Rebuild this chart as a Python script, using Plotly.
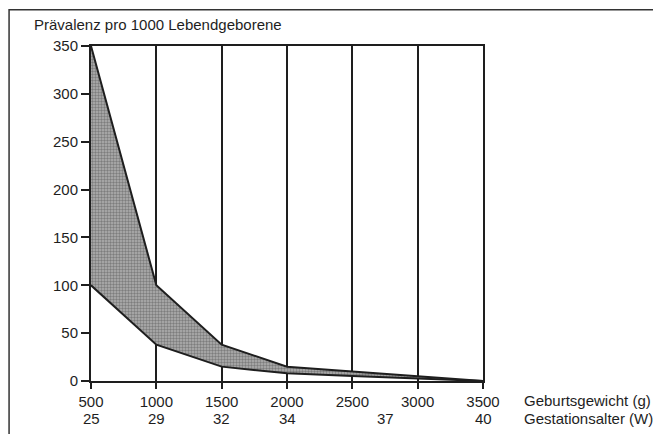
import plotly.graph_objects as go

# Data
weights = [500, 1000, 1500, 2000, 2500, 3000, 3500]          # Geburtsgewicht (g)
upper = [350, 100, 38, 15, 10, 5, 0]                          # obere Grenze
lower = [100, 38, 15, 8, 5.3, 2.7, 0]                         # untere Grenze
y_ticks = [0, 50, 100, 150, 200, 250, 300, 350]
gest_pos = [500, 1000, 1500, 2000, 2750, 3500]                # position on weight axis
gest_labels = ["25", "29", "32", "34", "37", "40"]            # Gestationsalter (W)

FONT = "Liberation Sans, Arial, Helvetica, sans-serif"
INK = "#1e1e1e"

fig = go.Figure()
fig.add_trace(go.Scatter(x=weights, y=lower, mode="lines",
                         line=dict(color=INK, width=2), showlegend=False,
                         hoverinfo="skip"))
fig.add_trace(go.Scatter(x=weights, y=upper, mode="lines",
                         line=dict(color=INK, width=2), showlegend=False,
                         fill="tonexty", fillcolor="#a0a0a0",
                         fillpattern=dict(shape=".", fgcolor="#4a4a4a",
                                          bgcolor="#b0b0b0", size=3, solidity=0.5),
                         hoverinfo="skip"))

# page body has an 8px margin, so the figure is 8px smaller on each side
fig.update_layout(
    width=653, height=426,
    margin=dict(l=83, r=178, t=38, b=53),
    paper_bgcolor="white", plot_bgcolor="white",
    font=dict(family=FONT, size=15, color=INK),
    showlegend=False,
)
fig.update_xaxes(
    range=[500, 3500], tickvals=weights, ticktext=[str(w) for w in weights],
    showgrid=True, gridcolor=INK, gridwidth=1.5,
    showline=True, linecolor=INK, linewidth=2, mirror=True,
    ticks="outside", ticklen=6, tickwidth=1.5, tickcolor=INK,
    zeroline=False, tickfont=dict(size=15, family=FONT, color=INK),
)
fig.update_yaxes(
    range=[0, 350], tickvals=y_ticks,
    showgrid=False,
    showline=True, linecolor=INK, linewidth=2, mirror=True,
    ticks="outside", ticklen=8, tickwidth=1.5, tickcolor=INK,
    zeroline=False, tickfont=dict(size=15, family=FONT, color=INK),
)

# second label row: gestational age
for xp, lab in zip(gest_pos, gest_labels):
    fig.add_annotation(x=xp, xref="x", y=-0.111, yref="paper", text=lab,
                       showarrow=False, xanchor="center", yanchor="middle",
                       font=dict(size=15, family=FONT, color=INK))

fig.add_annotation(x=1.1, xref="paper", y=-0.0597, yref="paper",
                   text="Geburtsgewicht (g)", showarrow=False,
                   xanchor="left", yanchor="middle",
                   font=dict(size=15, family=FONT, color=INK))
fig.add_annotation(x=1.1, xref="paper", y=-0.111, yref="paper",
                   text="Gestationsalter (W)", showarrow=False,
                   xanchor="left", yanchor="middle",
                   font=dict(size=15, family=FONT, color=INK))
fig.add_annotation(x=-0.1505, xref="paper", y=1.063, yref="paper",
                   text="Prävalenz pro 1000 Lebendgeborene", showarrow=False,
                   xanchor="left", yanchor="middle",
                   font=dict(size=15, family=FONT, color=INK))

# outer frame (left and top edges)
fig.add_shape(type="path", xref="paper", yref="paper",
              path="M -0.209,-0.25 L -0.209,1.108 L 1.439,1.108",
              line=dict(color="#333333", width=1.5))

fig.write_html("out.html")
